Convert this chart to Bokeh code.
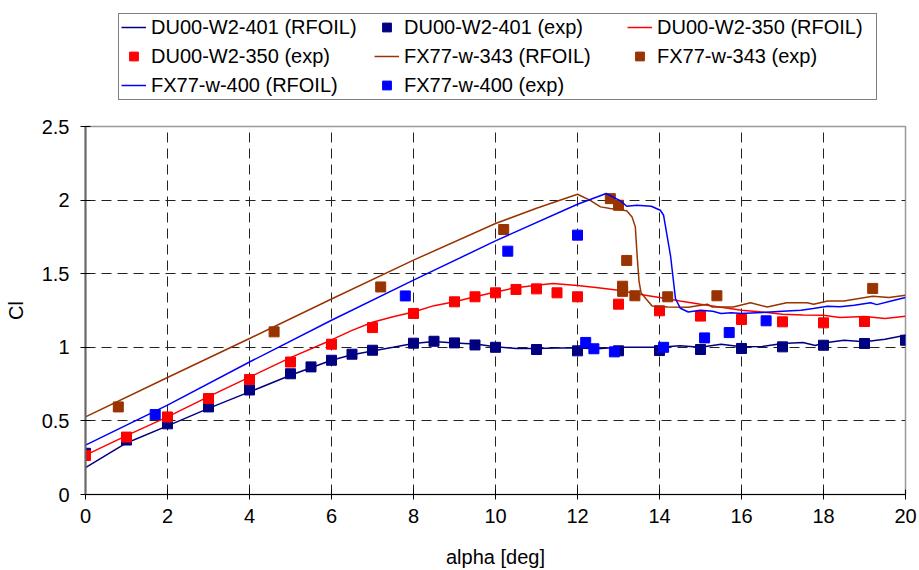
from bokeh.plotting import figure
from bokeh.layouts import column
from bokeh.models import Range1d, Legend, LegendItem, FixedTicker, CustomJSTickFormatter
from bokeh.embed import file_html
from bokeh.resources import INLINE

# ---------------- data ----------------
# DU00-W2-401 (RFOIL)
du401_rf_alpha = [0, 1, 2, 3, 4, 5, 6, 6.5, 7, 7.5, 8, 8.5, 9, 9.5, 10, 10.5, 11, 11.5, 12, 12.5,
                  13, 13.5, 14, 14.5, 15, 15.5, 16, 16.5, 17, 17.5, 17.8, 18, 18.5, 19, 19.5, 20]
du401_rf_cl = [0.183, 0.35, 0.466, 0.585, 0.697, 0.81, 0.912, 0.95, 0.975, 1.0, 1.026, 1.04, 1.03, 1.022,
               1.003, 0.992, 0.992, 0.996, 0.995, 0.99, 1.0, 1.0, 1.0, 1.01, 1.0, 1.02, 1.003, 1.005,
               1.026, 1.033, 1.012, 1.03, 1.048, 1.038, 1.055, 1.082]
# DU00-W2-401 (exp)
du401_ex_alpha = [0, 1, 2, 3, 4, 5, 5.5, 6, 6.5, 7, 8, 8.5, 9, 9.5, 10, 11, 12, 13, 14, 15, 16, 17, 18, 19, 20]
du401_ex_cl = [0.28, 0.37, 0.48, 0.595, 0.71, 0.82, 0.867, 0.912, 0.953, 0.98, 1.028, 1.041, 1.03, 1.016,
               1.0, 0.985, 0.976, 0.976, 0.978, 0.985, 0.992, 1.003, 1.014, 1.026, 1.048]
# DU00-W2-350 (RFOIL)
du350_rf_alpha = [0, 1, 2, 3, 4, 5, 6, 6.5, 7, 7.5, 8, 8.5, 9, 9.5, 10, 10.5, 11, 11.4, 12, 12.5, 13,
                  13.5, 14, 14.5, 15, 15.5, 16, 16.5, 17, 17.5, 18, 18.4, 19, 19.5, 20]
du350_rf_cl = [0.267, 0.40, 0.527, 0.665, 0.797, 0.93, 1.05, 1.115, 1.17, 1.207, 1.24, 1.283, 1.309, 1.343,
               1.376, 1.405, 1.422, 1.433, 1.42, 1.405, 1.388, 1.36, 1.338, 1.315, 1.293, 1.272, 1.252,
               1.24, 1.225, 1.22, 1.218, 1.202, 1.21, 1.196, 1.211]
# DU00-W2-350 (exp)
du350_ex_alpha = [0, 1, 2, 3, 4, 5, 6, 7, 8, 9, 9.5, 10, 10.5, 11, 11.5, 12, 13, 14, 15, 16, 17, 18, 19]
du350_ex_cl = [0.265, 0.39, 0.527, 0.652, 0.781, 0.9, 1.021, 1.134, 1.23, 1.309, 1.343, 1.37, 1.393, 1.397,
               1.37, 1.343, 1.293, 1.248, 1.212, 1.189, 1.173, 1.166, 1.175]
# FX77-w-343 (RFOIL)
fx343_rf_alpha = [0, 2, 4, 6, 8, 10, 11, 12.0, 12.3, 12.56, 12.8, 13.2, 13.33, 13.41, 13.46, 13.5, 13.55,
                  13.7, 13.82, 14.2, 14.7, 15.17, 15.28, 15.8, 16.22, 16.63, 17.1, 17.6, 17.76, 18.1,
                  18.5, 19.2, 19.6, 20]
fx343_rf_cl = [0.527, 0.795, 1.06, 1.328, 1.592, 1.841, 1.945, 2.04, 2.0, 1.954, 1.943, 1.927, 1.886,
               1.818, 1.6, 1.45, 1.37, 1.32, 1.28, 1.274, 1.272, 1.293, 1.274, 1.274, 1.302, 1.274,
               1.302, 1.302, 1.293, 1.315, 1.315, 1.347, 1.338, 1.354]
# FX77-w-343 (exp)
fx343_ex_alpha = [0.8, 4.6, 7.2, 10.2, 12.8, 13.0, 13.1, 13.1, 13.2, 13.4, 14.2, 15.4, 19.2]
fx343_ex_cl = [0.595, 1.105, 1.41, 1.80, 2.01, 1.965, 1.415, 1.38, 1.59, 1.35, 1.343, 1.35, 1.40]
# FX77-w-400 (RFOIL)
fx400_rf_alpha = [0, 2, 4, 6, 8, 10, 12, 12.7, 13.05, 13.2, 13.45, 13.8, 14.02, 14.1, 14.27, 14.39, 14.51,
                  14.7, 15.0, 15.3, 15.5, 15.75, 16.0, 16.5, 17.0, 17.45, 17.75, 18.1, 18.4, 18.75,
                  19.15, 19.3, 19.65, 20]
fx400_rf_cl = [0.335, 0.607, 0.90, 1.184, 1.456, 1.723, 1.972, 2.045, 1.995, 1.958, 1.965, 1.958, 1.931,
               1.897, 1.62, 1.33, 1.265, 1.24, 1.252, 1.245, 1.23, 1.235, 1.23, 1.236, 1.245, 1.252,
               1.263, 1.279, 1.275, 1.286, 1.302, 1.29, 1.315, 1.338]
# FX77-w-400 (exp)
fx400_ex_alpha = [1.7, 7.8, 10.3, 12.0, 12.2, 12.4, 12.9, 14.1, 15.1, 15.7, 16.6]
fx400_ex_cl = [0.543, 1.349, 1.653, 1.762, 1.033, 0.99, 0.969, 1.0, 1.064, 1.10, 1.18]

series_labels = ["DU00-W2-401 (RFOIL)", "DU00-W2-401 (exp)", "DU00-W2-350 (RFOIL)",
                 "DU00-W2-350 (exp)", "FX77-w-343 (RFOIL)", "FX77-w-343 (exp)",
                 "FX77-w-400 (RFOIL)", "FX77-w-400 (exp)"]

x_ticks = [0, 2, 4, 6, 8, 10, 12, 14, 16, 18, 20]
y_ticks = [0, 0.5, 1, 1.5, 2, 2.5]

FONT = "Liberation Sans"
FS = "20px"
NAVY, RED, BROWN, BLUE = "#000080", "#FF0000", "#993300", "#0000FF"
LW = 1.5
MS = 10

LEG_H = 110
W = 919

series = [
    ("line", du401_rf_alpha, du401_rf_cl, NAVY),
    ("sq", du401_ex_alpha, du401_ex_cl, NAVY),
    ("line", du350_rf_alpha, du350_rf_cl, RED),
    ("sq", du350_ex_alpha, du350_ex_cl, RED),
    ("line", fx343_rf_alpha, fx343_rf_cl, BROWN),
    ("sq", fx343_ex_alpha, fx343_ex_cl, BROWN),
    ("line", fx400_rf_alpha, fx400_rf_cl, BLUE),
    ("sq", fx400_ex_alpha, fx400_ex_cl, BLUE),
]


def draw(fig, kind, xs, ys, col):
    if kind == "line":
        return fig.line(xs, ys, line_color=col, line_width=LW)
    return fig.scatter(xs, ys, marker="square", size=MS, color=col)


# ---------------- main chart ----------------
p = figure(width=W, height=570 - LEG_H, output_backend="svg", toolbar_location=None,
           x_range=Range1d(0, 20), y_range=Range1d(0, 2.5),
           min_border_left=85, min_border_right=14, min_border_top=126 - LEG_H, min_border_bottom=76,
           background_fill_color="white", border_fill_color="white")
p.outline_line_color = "#999999"
p.outline_line_width = 1.5

fmt = CustomJSTickFormatter(code="return tick.toString();")
for ax, ticks in ((p.xaxis[0], x_ticks), (p.yaxis[0], y_ticks)):
    ax.ticker = FixedTicker(ticks=ticks)
    ax.formatter = fmt
    ax.minor_tick_line_color = None
    ax.major_tick_in = 5
    ax.major_tick_out = 5
    ax.major_tick_line_color = "black"
    ax.major_label_text_font = FONT
    ax.major_label_text_font_size = FS
    ax.major_label_text_color = "black"
    ax.axis_label_text_font = FONT
    ax.axis_label_text_font_size = FS
    ax.axis_label_text_font_style = "normal"
    ax.axis_label_text_color = "black"

p.xaxis.axis_label = "alpha [deg]"
p.yaxis.axis_label = "Cl"
p.xaxis.axis_line_color = "black"
p.yaxis.axis_line_color = "#666666"
p.yaxis.axis_line_width = 2
p.xaxis.major_label_standoff = 9
p.yaxis.major_label_standoff = 11
p.xaxis.axis_label_standoff = 20
p.yaxis.axis_label_standoff = 12

for g in (p.xgrid[0], p.ygrid[0]):
    g.grid_line_color = "#222222"
    g.grid_line_dash = "10 6"
    g.grid_line_width = 1
p.xgrid.ticker = FixedTicker(ticks=x_ticks)
p.ygrid.ticker = FixedTicker(ticks=y_ticks)

for kind, xs, ys, col in series:
    draw(p, kind, xs, ys, col)

# ---------------- legend strip (own figure so it is not clipped) ----------------
# the same series are drawn here with a range that keeps them out of view; only the legend shows
pl = figure(width=W, height=LEG_H, output_backend="svg", toolbar_location=None,
            x_range=Range1d(-200, -199), y_range=Range1d(-200, -199),
            x_axis_type=None, y_axis_type=None,
            min_border_left=85, min_border_right=14, min_border_top=0, min_border_bottom=0,
            background_fill_color="white", border_fill_color="white")
pl.outline_line_color = None
pl.xgrid.visible = False
pl.ygrid.visible = False

items = []
for lab, (kind, xs, ys, col) in zip(series_labels, series):
    r = draw(pl, kind, xs, ys, col)
    items.append(LegendItem(label=lab, renderers=[r]))

legend = Legend(items=items, orientation="horizontal", ncols=3,
                location=(33, LEG_H - 99.5),
                margin=0, padding=2, spacing=6, glyph_width=25, glyph_height=22,
                label_standoff=5, label_width=217, label_height=22,
                label_text_font=FONT, label_text_font_size=FS, label_text_color="black",
                border_line_color="black", border_line_width=1,
                background_fill_color="white", background_fill_alpha=1.0)
pl.add_layout(legend)

layout = column(pl, p, spacing=0)
open("out.html", "w").write(file_html(layout, INLINE))
